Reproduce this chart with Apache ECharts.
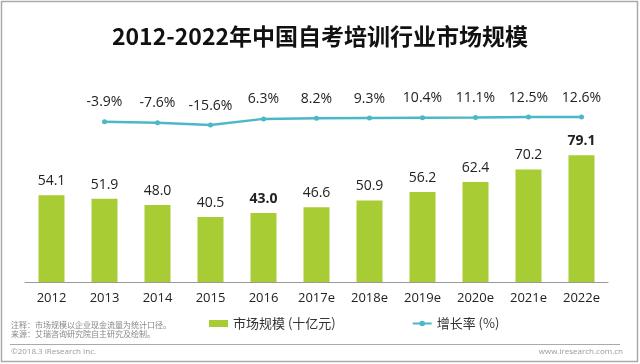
<!DOCTYPE html>
<html>
<head>
<meta charset="utf-8">
<script src="https://cdn.jsdelivr.net/npm/echarts@6/dist/echarts.min.js"></script>
<style>html,body{margin:0;padding:0;background:#fff;}#c{width:640px;height:364px;}</style>
</head>
<body>
<div id="c"></div>
<script>
var categories = ['2012','2013','2014','2015','2016','2017e','2018e','2019e','2020e','2021e','2022e'];
var marketSize = [54.1, 51.9, 48.0, 40.5, 43.0, 46.6, 50.9, 56.2, 62.4, 70.2, 79.1];
var growthRate = [null, -3.9, -7.6, -15.6, 6.3, 8.2, 9.3, 10.4, 11.1, 12.5, 12.6];
var boldBars = ['2016', '2022e'];
var seriesNames = ['市场规模 (十亿元)', '增长率 (%)'];

var BAR = '#A8CC33', LINE = '#4BB8C8';
var FONT = '"Open Sans", "Noto Sans CJK SC", sans-serif';
var CJK = '"Noto Sans CJK SC", "Microsoft YaHei", sans-serif';

var chart = echarts.init(document.getElementById('c'), null, {renderer: 'canvas'});
chart.setOption({
  animation: false,
  backgroundColor: '#fff',
  title: {
    text: '2012-2022年中国自考培训行业市场规模',
    left: 'center', top: 20,
    textStyle: {fontFamily: CJK, fontSize: 23, fontWeight: 'bold', color: '#111'}
  },
  grid: {left: 25, right: 32, top: 40, bottom: 82},
  legend: {
    left: 204, top: 312,
    itemWidth: 19, itemHeight: 7, itemGap: 76,
    textStyle: {fontFamily: CJK, fontSize: 13, color: '#333'},
    data: [
      {name: seriesNames[0], icon: 'rect'},
      {name: seriesNames[1]}
    ]
  },
  xAxis: {
    type: 'category', data: categories,
    axisLine: {lineStyle: {color: '#999', width: 1}},
    axisTick: {show: false},
    axisLabel: {fontFamily: FONT, fontSize: 13, color: '#222', margin: 10}
  },
  yAxis: [
    {type: 'value', min: 0, max: 151, show: false, splitLine: {show: false}},
    {type: 'value', min: -568, max: 284, show: false, splitLine: {show: false}}
  ],
  series: [
    {
      name: seriesNames[0], type: 'bar', yAxisIndex: 0, barWidth: 26,
      itemStyle: {color: BAR},
      data: marketSize.map(function (v, i) {
        var b = boldBars.indexOf(categories[i]) >= 0;
        return {value: v, label: {fontWeight: b ? 'bold' : 'normal'}};
      }),
      label: {
        show: true, position: 'top', distance: 7,
        fontFamily: FONT, fontSize: 14, color: '#222',
        formatter: function (p) { return p.value.toFixed(1); }
      }
    },
    {
      name: seriesNames[1], type: 'line', yAxisIndex: 1,
      data: growthRate,
      symbol: 'circle', symbolSize: 5,
      lineStyle: {color: LINE, width: 2.5},
      itemStyle: {color: LINE},
      label: {
        show: true, position: 'top', distance: 10,
        fontFamily: FONT, fontSize: 14, color: '#222',
        formatter: function (p) { return p.value.toFixed(1) + '%'; }
      }
    }
  ],
  graphic: [
    {type: 'rect', shape: {x: 1.5, y: 1.5, width: 636, height: 360},
     style: {fill: 'none', stroke: '#aaa', lineWidth: 1.5}, silent: true},
    {type: 'text', left: 11, top: 321,
     style: {text: '注释：市场规模以企业现金流量为统计口径。', font: '8px ' + CJK, fill: '#888'}},
    {type: 'text', left: 11, top: 330,
     style: {text: '来源：艾瑞咨询研究院自主研究及绘制。', font: '8px ' + CJK, fill: '#888'}},
    {type: 'line', shape: {x1: 10, y1: 344.5, x2: 620, y2: 344.5},
     style: {stroke: '#aaa', lineWidth: 1}},
    {type: 'text', left: 11, top: 348,
     style: {text: '©2018.3 iResearch Inc.', font: '8px ' + FONT, fill: '#999'}},
    {type: 'text', right: 17, top: 348,
     style: {text: 'www.iresearch.com.cn', font: '8px ' + FONT, fill: '#999'}}
  ]
});
</script>
</body>
</html>
